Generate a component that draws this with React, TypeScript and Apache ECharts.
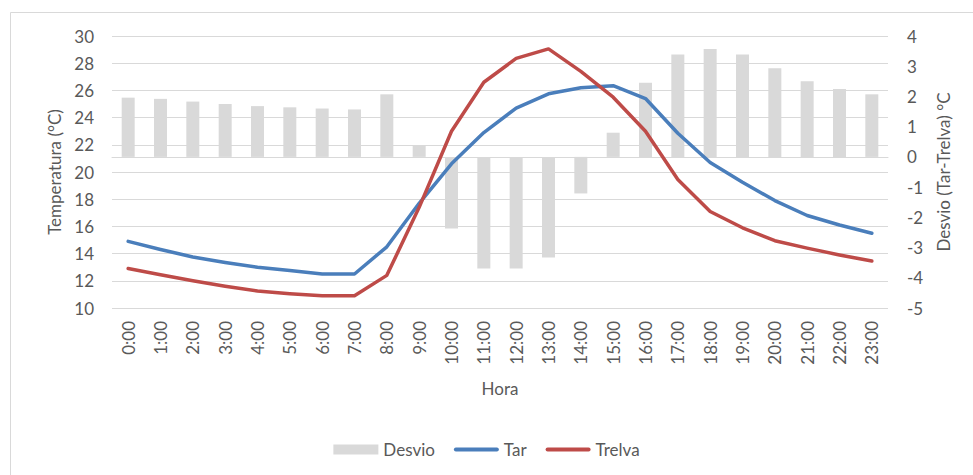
import React, { useEffect, useRef } from "react";
import * as echarts from "echarts";

const hours = [
  "0:00", "1:00", "2:00", "3:00", "4:00", "5:00", "6:00", "7:00", "8:00", "9:00", "10:00", "11:00",
  "12:00", "13:00", "14:00", "15:00", "16:00", "17:00", "18:00", "19:00", "20:00", "21:00", "22:00", "23:00",
];
const desvio = [
  1.96, 1.92, 1.83, 1.75, 1.68, 1.64, 1.6, 1.57, 2.07, 0.39, -2.37, -3.69,
  -3.69, -3.33, -1.21, 0.8, 2.45, 3.39, 3.57, 3.39, 2.93, 2.5, 2.25, 2.07,
];
const tar = [
  14.9, 14.3, 13.75, 13.35, 13.0, 12.75, 12.5, 12.5, 14.5, 17.7, 20.6, 22.9,
  24.7, 25.75, 26.2, 26.35, 25.4, 22.85, 20.7, 19.25, 17.9, 16.8, 16.1, 15.5,
];
const trelva = [
  12.9, 12.45, 12.0, 11.6, 11.25, 11.05, 10.9, 10.9, 12.4, 17.4, 23.0, 26.6,
  28.35, 29.05, 27.4, 25.5, 23.0, 19.45, 17.1, 15.9, 14.95, 14.4, 13.9, 13.45,
];

const FONT = "Lato, 'Open Sans', sans-serif";
const TXT = "#595959";
const GRID = "#D9D9D9";
const BLUE = "#4A7EBB";
const RED = "#BE4B48";
const LINE_ICON = "path://M2,0 L43,0 A2,2 0 0 1 43,4 L2,4 A2,2 0 0 1 2,0 Z";

export default function App() {
  const ref = useRef<HTMLDivElement>(null);
  useEffect(() => {
    if (!ref.current) return;
    const chart = echarts.init(ref.current, undefined, { renderer: "svg" });
    chart.setOption({
      animation: false,
      backgroundColor: "#ffffff",
      textStyle: { fontFamily: FONT, color: TXT },
      graphic: [
        {
          type: "rect",
          silent: true,
          z: -10,
          shape: { x: 10.5, y: 12.5, width: 1200, height: 1200 },
          style: { fill: "none", stroke: GRID, lineWidth: 1 },
        },
      ],
      grid: { left: 112, right: 85, top: 36, bottom: 167 },
      legend: {
        left: "center",
        top: 436,
        itemWidth: 45,
        itemHeight: 10,
        itemGap: 19,
        textStyle: { fontFamily: FONT, fontSize: 17, color: TXT },
        data: [
          { name: "Desvio", icon: "rect" },
          { name: "Tar", icon: LINE_ICON },
          { name: "Trelva", icon: LINE_ICON },
        ],
      },
      xAxis: {
        type: "category",
        data: hours,
        name: "Hora",
        nameLocation: "middle",
        nameGap: 72,
        nameTextStyle: { fontFamily: FONT, fontSize: 17, color: TXT },
        axisLine: { lineStyle: { color: GRID, width: 1 } },
        axisTick: { show: false },
        axisLabel: { rotate: 90, interval: 0, margin: 13, fontFamily: FONT, fontSize: 17, color: TXT },
      },
      yAxis: [
        {
          type: "value",
          min: 10,
          max: 30,
          interval: 2,
          name: "Temperatura (°C)",
          nameLocation: "middle",
          nameRotate: 90,
          nameGap: 49,
          nameTextStyle: { fontFamily: FONT, fontSize: 17, color: TXT },
          axisLine: { show: false },
          axisTick: { show: false },
          axisLabel: { margin: 18, fontFamily: FONT, fontSize: 17, color: TXT },
          splitLine: { show: true, lineStyle: { color: GRID, width: 1 } },
        },
        {
          type: "value",
          min: -5,
          max: 4,
          interval: 1,
          position: "right",
          name: "Desvio (Tar-Trelva) °C",
          nameLocation: "middle",
          nameRotate: 90,
          nameGap: 47,
          nameTextStyle: { fontFamily: FONT, fontSize: 17, color: TXT },
          axisLine: { show: false },
          axisTick: { show: false },
          axisLabel: { margin: 19, fontFamily: FONT, fontSize: 17, color: TXT },
          splitLine: { show: false },
        },
      ],
      series: [
        {
          name: "Desvio",
          type: "bar",
          yAxisIndex: 1,
          data: desvio,
          barWidth: 13,
          itemStyle: { color: "#D9D9D9" },
        },
        {
          name: "Tar",
          type: "line",
          yAxisIndex: 0,
          data: tar,
          symbol: "none",
          itemStyle: { color: BLUE },
          lineStyle: { color: BLUE, width: 3.5, cap: "round", join: "round" },
        },
        {
          name: "Trelva",
          type: "line",
          yAxisIndex: 0,
          data: trelva,
          symbol: "none",
          itemStyle: { color: RED },
          lineStyle: { color: RED, width: 3.5, cap: "round", join: "round" },
        },
      ],
    });
    return () => chart.dispose();
  }, []);
  return (
    <div
      ref={ref}
      style={{ position: "absolute", left: 0, top: 0, width: 973, height: 475 }}
    />
  );
}
